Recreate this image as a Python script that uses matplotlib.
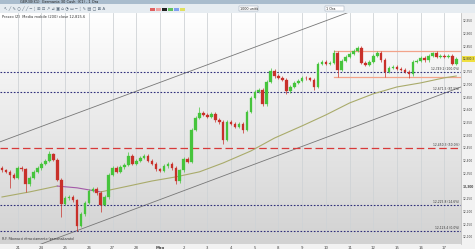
import numpy as np
import matplotlib.pyplot as plt
from matplotlib.colors import LinearSegmentedColormap
from matplotlib.patches import Rectangle

# --- price data (hourly candles) ---
first_open = 12370
closes = [12363, 12356, 12344, 12332, 12371, 12368, 12308, 12332, 12356, 12371,
          12387, 12399, 12426, 12403, 12324, 12230, 12253, 12257, 12245, 12143,
          12190, 12234, 12281, 12289, 12273, 12226, 12257, 12344, 12371, 12356,
          12375, 12383, 12419, 12387, 12399, 12411, 12419, 12399, 12387, 12367,
          12360, 12379, 12387, 12371, 12320, 12363, 12407, 12395, 12521, 12568,
          12588, 12580, 12572, 12584, 12560, 12552, 12482, 12552, 12545, 12533,
          12545, 12521, 12592, 12647, 12671, 12678, 12623, 12710, 12753, 12733,
          12726, 12718, 12674, 12690, 12706, 12714, 12726, 12724, 12718, 12690,
          12781, 12789, 12781, 12785, 12824, 12757, 12793, 12808, 12820, 12832,
          12844, 12785, 12777, 12789, 12812, 12824, 12796, 12749, 12765, 12769,
          12761, 12757, 12749, 12741, 12789, 12793, 12804, 12796, 12812, 12824,
          12808, 12812, 12808, 12812, 12781, 12800]
highs = [12378, 12369, 12362, 12350, 12378, 12377, 12372, 12338, 12362, 12377,
         12393, 12405, 12438, 12432, 12409, 12330, 12260, 12264, 12263, 12250,
         12196, 12240, 12287, 12296, 12295, 12279, 12263, 12350, 12377, 12377,
         12381, 12389, 12434, 12425, 12405, 12417, 12426, 12425, 12405, 12393,
         12373, 12385, 12393, 12393, 12377, 12369, 12413, 12413, 12527, 12574,
         12611, 12594, 12586, 12590, 12590, 12566, 12558, 12558, 12558, 12551,
         12551, 12551, 12598, 12653, 12677, 12684, 12684, 12716, 12765, 12759,
         12739, 12732, 12724, 12696, 12712, 12720, 12732, 12732, 12730, 12724,
         12787, 12795, 12795, 12791, 12836, 12830, 12799, 12814, 12826, 12838,
         12852, 12850, 12791, 12795, 12818, 12832, 12830, 12802, 12771, 12775,
         12775, 12767, 12763, 12755, 12795, 12799, 12810, 12810, 12818, 12828,
         12830, 12818, 12818, 12818, 12818, 12806]
lows = [12356, 12350, 12293, 12326, 12327, 12361, 12277, 12300, 12326, 12350,
        12365, 12381, 12393, 12397, 12318, 12178, 12224, 12246, 12238, 12123,
        12137, 12184, 12228, 12275, 12266, 12198, 12220, 12251, 12338, 12350,
        12350, 12369, 12377, 12381, 12381, 12393, 12405, 12393, 12381, 12361,
        12354, 12354, 12373, 12365, 12308, 12314, 12357, 12389, 12389, 12515,
        12562, 12574, 12566, 12566, 12554, 12546, 12466, 12476, 12539, 12527,
        12527, 12509, 12515, 12586, 12641, 12665, 12617, 12617, 12704, 12727,
        12720, 12712, 12663, 12668, 12684, 12700, 12708, 12718, 12712, 12678,
        12684, 12775, 12775, 12775, 12779, 12730, 12751, 12787, 12802, 12814,
        12826, 12779, 12771, 12771, 12783, 12806, 12790, 12730, 12743, 12759,
        12755, 12751, 12743, 12726, 12735, 12783, 12787, 12790, 12790, 12806,
        12802, 12802, 12802, 12802, 12775, 12775]

# moving average (200), sampled at candle indices
ma_idx = [0, 7, 14, 19, 25, 32, 38, 44, 50, 56, 63, 69, 76, 82, 88, 94, 100, 106, 112, 115]
ma_val = [12257, 12277, 12300, 12293, 12277, 12300, 12320, 12336, 12356, 12391,
          12438, 12489, 12537, 12580, 12627, 12663, 12690, 12706, 12726, 12733]
ma_falling = (14, 25)  # section drawn in purple

# drawn objects
fib_levels = [12749.2, 12671.5, 12450.3, 12225.8, 12123.4]
fib_labels = ["12,749.2 (100.0%)", "12,671.5 (87.5%)", "12,450.3 (50.0%)",
              "12,225.8 (14.6%)", "12,123.4 (0.0%)"]
range_top, range_bottom, range_start = 12832, 12730, 84
channel_upper = ([-0.5, 120], [12474, 13170])
channel_lower = ([9.6, 120], [12070, 12712])

day_pos = [4, 10, 16, 22, 28, 34, 40, 46, 52, 58, 64, 70, 76, 82, 88, 94, 100, 106, 112]
day_labels = ["21", "24", "25", "26", "27", "28", "Mag", "2", "3", "4", "5",
              "8", "9", "10", "11", "12", "15", "16", "17"]
price_ticks = list(range(12950, 12099, -50))
last_price = "12,800.3"

W, H = 475, 249
YMIN, YMAX = 12072, 12981
fig = plt.figure(figsize=(W / 100, H / 100), dpi=100)
fig.patch.set_facecolor("#f2f2f2")

ax = fig.add_axes([0, 5 / H, 461 / W, 231 / H])
ax.set_xlim(-0.5, 116.2)
ax.set_ylim(YMIN, YMAX)

# background gradient
grad = np.linspace(1, 0, 256).reshape(-1, 1)
ax.imshow(grad, extent=(0, 1, 0, 1), transform=ax.transAxes, aspect="auto",
          cmap=LinearSegmentedColormap.from_list("bg", ["#d2d2d2", "#ffffff"]), zorder=0)

for p in day_pos:
    ax.axvline(p, color="#cfd3d6", lw=0.6, zorder=1)

# trend channel
ax.plot(*channel_upper, color="#777777", lw=0.6, zorder=2)
ax.plot(*channel_lower, color="#777777", lw=0.6, zorder=2)

# moving average
ma_idx_a = np.array(ma_idx)
ma_val_a = np.array(ma_val)
a, b = ma_idx.index(ma_falling[0]), ma_idx.index(ma_falling[1])
ax.plot(ma_idx_a[:a + 1], ma_val_a[:a + 1], color="#a9ab6b", lw=0.8, zorder=3)
ax.plot(ma_idx_a[a:b + 1], ma_val_a[a:b + 1], color="#a45aa8", lw=0.8, zorder=3)
ax.plot(ma_idx_a[b:], ma_val_a[b:], color="#a9ab6b", lw=0.8, zorder=3)

# fibonacci levels
for i, (lv, lb) in enumerate(zip(fib_levels, fib_labels)):
    if i == 2:
        ax.axhline(lv, color="#d83a3a", lw=0.9, ls=(0, (6, 3)), zorder=2)
    else:
        ax.axhline(lv, color="#2f2f7a", lw=0.8, ls=(0, (1.5, 1.5)), zorder=2)
    ax.text(115.8, lv + 3, lb, fontsize=2.2, color="#333333", ha="right", va="bottom", zorder=4)

# range lines
ax.plot([range_start, 117], [range_top, range_top], color="#f2a38a", lw=0.9, zorder=2)
ax.plot([range_start, 117], [range_bottom, range_bottom], color="#f2a38a", lw=0.9, zorder=2)

# candles
opens = [first_open] + closes[:-1]
x = np.arange(len(closes))
up = np.array(closes) >= np.array(opens)
col = np.where(up, "#46c43c", "#c8302a")
ax.vlines(x, lows, highs, colors=col, lw=0.5, zorder=5)
body = np.array(closes) - np.array(opens)
body = np.where(np.abs(body) < 2, 2, body)
ax.bar(x, body, bottom=opens, width=0.65, color=col, edgecolor=col, lw=0.2, zorder=6)

# axes styling
ax.set_xticks(day_pos)
ax.set_xticklabels(day_labels)
ax.set_yticks(price_ticks)
ax.set_yticklabels([f"{v:,}" for v in price_ticks])
ax.tick_params(axis="x", length=0, pad=1.2, labelsize=2.8, colors="#444444")
ax.tick_params(axis="y", length=0, pad=1.2, labelsize=2.1, colors="#444444",
               left=False, labelleft=False, right=True, labelright=True)
for t in ax.get_xticklabels():
    if t.get_text() == "Mag":
        t.set_fontweight("bold")
for t in ax.get_yticklabels():
    if t.get_text() == "12,300":
        t.set_fontweight("bold")
for s in ["top", "left", "bottom"]:
    ax.spines[s].set_visible(False)
ax.spines["right"].set_color("#b8b8b8")
ax.spines["right"].set_linewidth(0.5)

ax.text(0.004, 0.99, "Prezzo (Z)  Media mobile (200) close 12,815.6", transform=ax.transAxes,
        fontsize=2.6, color="#333333", va="top", ha="left")
ax.text(0.004, 0.012, "R.F. Fibonacci ritracciamento (personalizzato)", transform=ax.transAxes,
        fontsize=2.3, color="#333333", va="bottom", ha="left")

# last price box
ax.text(1.003, (12800 - YMIN) / (YMAX - YMIN), last_price, transform=ax.transAxes,
        fontsize=2.0, va="center", ha="left", color="#333333",
        bbox=dict(boxstyle="square,pad=0.2", fc="#f0e040", ec="none"), clip_on=False)

# top toolbar
fig.patches.append(Rectangle((0, 1 - 4 / H), 1, 4 / H, transform=fig.transFigure,
                             fc="#a9bccd", ec="none"))
fig.patches.append(Rectangle((0, 1 - 13 / H), 1, 9 / H, transform=fig.transFigure,
                             fc="#e6ecf1", ec="none"))
fig.text(20 / W, 1 - 2 / H, "GER30(€1)  Germania 30 Cash  (€1) - 1 Ora", fontsize=2.6,
         color="#222222", va="center")
fig.text(4 / W, 1 - 8.5 / H, "↖ ╱ ✎ ○ ╱ ╱ ─ ┆ ⊞ ⊡ ↗ ⊿ ▣ ⌂ ◔ ▭ ─ ┆ ✎ ▤ ▢ ⊠ A",
         fontsize=3, color="#556677", va="center")
for xx, cc in [(150, "#e06060"), (156, "#f0a0a0"), (162, "#222222"), (168, "#60c060"),
               (174, "#80a0f0"), (180, "#e0e060")]:
    fig.patches.append(Rectangle((xx / W, 1 - 11 / H), 5 / W, 3 / H, transform=fig.transFigure,
                                 fc=cc, ec="none"))
for x0, w, lab in [(239, 19, "1000 unità"), (325, 19, "1 Ora")]:
    fig.patches.append(Rectangle((x0 / W, 1 - 11.5 / H), w / W, 5 / H, transform=fig.transFigure,
                                 fc="white", ec="#8899aa", lw=0.3))
    fig.text((x0 + 1) / W, 1 - 9 / H, lab, fontsize=2.4, color="#222222", va="center")

fig.savefig("out.png", dpi=100)
